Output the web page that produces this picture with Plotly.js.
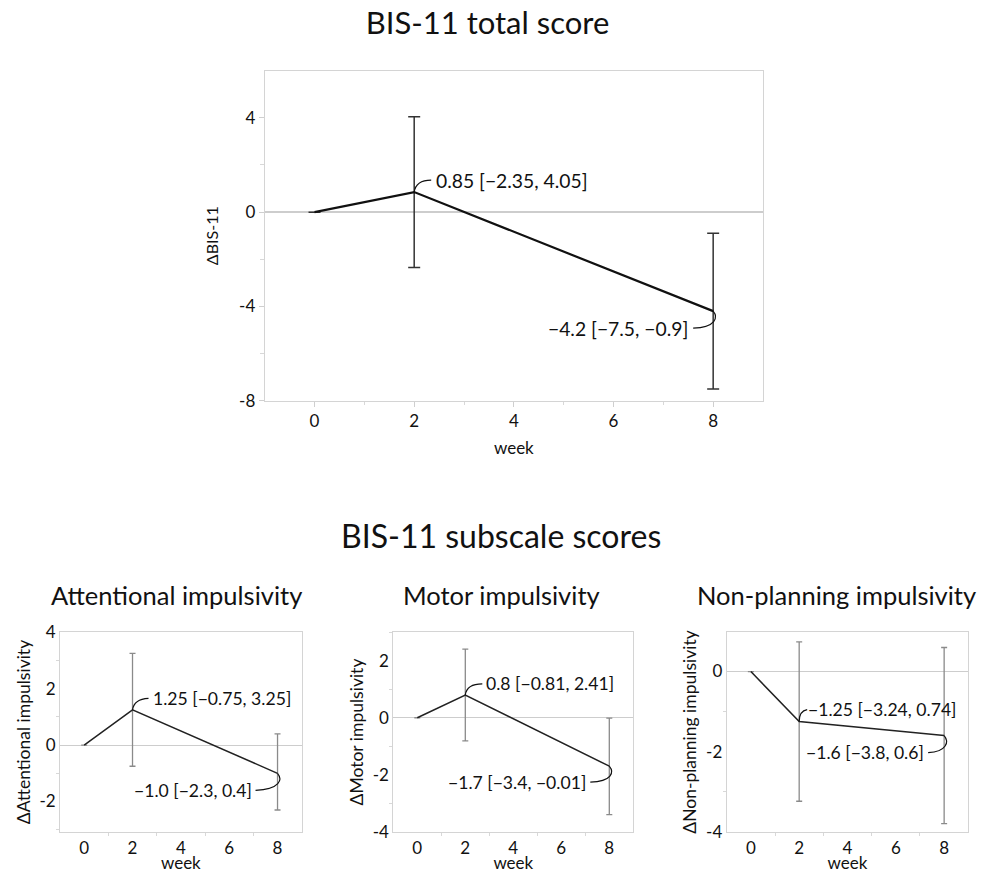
<!DOCTYPE html>
<html><head><meta charset="utf-8">
<script src="https://cdn.plot.ly/plotly-3.0.1.min.js"></script>
<style>body{margin:0;background:#fff}#c{width:990px;height:873px}</style>
</head><body><div id="c"></div>
<script>
// ---- data ----
const weeks = [0, 2, 8];
const xTicks = [0, 2, 4, 6, 8];
const xTickText = ["0", "2", "4", "6", "8"];
const xMinor = [1, 3, 5, 7];

const totalMean = [0, 0.85, -4.2];
const totalLow  = [0, -2.35, -7.5];
const totalHigh = [0, 4.05, -0.9];
const totalLabels = ["", "0.85 [\u22122.35, 4.05]", "\u22124.2 [\u22127.5, \u22120.9]"];
const totalYTicks = [-8, -4, 0, 4];
const totalYText = ["-8", "-4", "0", "4"];
const totalYMinor = [-6, -2, 2];

const attMean = [0, 1.25, -1.0];
const attLow  = [0, -0.75, -2.3];
const attHigh = [0, 3.25, 0.4];
const attLabels = ["", "1.25 [\u22120.75, 3.25]", "\u22121.0 [\u22122.3, 0.4]"];
const attYTicks = [-2, 0, 2, 4];
const attYText = ["-2", "0", "2", "4"];
const attYMinor = [-3, -1, 1, 3];

const motMean = [0, 0.8, -1.7];
const motLow  = [0, -0.81, -3.4];
const motHigh = [0, 2.41, -0.01];
const motLabels = ["", "0.8 [\u22120.81, 2.41]", "\u22121.7 [\u22123.4, \u22120.01]"];
const motYTicks = [-4, -2, 0, 2];
const motYText = ["-4", "-2", "0", "2"];
const motYMinor = [-3, -1, 1, 3];

const npMean = [0, -1.25, -1.6];
const npLow  = [0, -3.24, -3.8];
const npHigh = [0, 0.74, 0.6];
const npLabels = ["", "\u22121.25 [\u22123.24, 0.74]", "\u22121.6 [\u22123.8, 0.6]"];
const npYTicks = [-4, -2, 0];
const npYText = ["-4", "-2", "0"];
const npYMinor = [-3, -1];

const FONT = "Lato, 'Open Sans', sans-serif";

function trace(mean, low, high, xa, ya, big) {
  return {
    x: weeks, y: mean, xaxis: xa, yaxis: ya, type: 'scatter', mode: 'lines',
    line: {color: big ? '#111' : '#222', width: big ? 2.2 : 1.5},
    error_y: {
      type: 'data', symmetric: false,
      array: high.map((h, i) => h - mean[i]),
      arrayminus: low.map((l, i) => mean[i] - l),
      color: big ? '#333' : '#8a8a8a', thickness: big ? 1.5 : 1.3, width: big ? 6 : 3
    },
    showlegend: false, hoverinfo: 'skip'
  };
}

function xaxis(domain, anchor, big) {
  return {
    domain: domain, anchor: anchor, range: [-1, 9], tickmode: 'array', tickvals: xTicks, ticktext: xTickText,
    showline: true, mirror: true, linecolor: '#d4d4d4', linewidth: 1,
    ticks: big ? 'outside' : '', ticklen: big ? 5 : 0, tickcolor: '#cfcfcf',
    minor: {tickmode: 'array', tickvals: xMinor, ticks: 'outside', ticklen: 3, tickcolor: '#d8d8d8'},
    showgrid: false, zeroline: false, automargin: false,
    ticklabelstandoff: big ? 0 : 1,
    tickfont: {family: FONT, size: big ? 17 : 17, color: '#111'},
    title: {text: 'week', font: {family: FONT, size: big ? 17 : 17, color: '#111'}, standoff: big ? 12 : 0}
  };
}

function yaxis(domain, anchor, range, ticks, text, minor, title, big) {
  return {
    domain: domain, anchor: anchor, range: range, tickmode: 'array', tickvals: ticks, ticktext: text,
    showline: true, mirror: true, linecolor: '#d4d4d4', linewidth: 1,
    ticks: big ? 'outside' : '', ticklen: big ? 5 : 0, tickcolor: '#cfcfcf',
    minor: {tickmode: 'array', tickvals: minor, ticks: 'outside', ticklen: big ? 4 : 3, tickcolor: '#d8d8d8'},
    showgrid: false, zeroline: true, zerolinecolor: '#cdcdcd', zerolinewidth: big ? 1.5 : 1.2,
    automargin: false,
    ticklabelstandoff: big ? 0 : 0,
    tickfont: {family: FONT, size: big ? 17 : 17, color: '#111'},
    title: {text: title, font: {family: FONT, size: big ? 16 : 17.5, color: '#111'}, standoff: big ? 16 : 4}
  };
}

const data = [
  trace(totalMean, totalLow, totalHigh, 'x', 'y', true),
  trace(attMean, attLow, attHigh, 'x2', 'y2', false),
  trace(motMean, motLow, motHigh, 'x3', 'y3', false),
  trace(npMean, npLow, npHigh, 'x4', 'y4', false)
];

const groups = [
  {xr: 'x', yr: 'y', m: totalMean, lab: totalLabels, fs: 19.3,
   off: [[20, 12, 'left'], [-23, -17, 'right']],
   path: ['M0,0 C1,7 6,12 17,12', 'M0,0 C5,-6 3,-16 -20,-17']},
  {xr: 'x2', yr: 'y2', m: attMean, lab: attLabels, fs: 17.6,
   off: [[18, 11.5, 'left'], [-24, -17, 'right']],
   path: ['M0,0 C1,7 6,11 16,11.5', 'M0,0 C5,-6 3,-16 -22,-17']},
  {xr: 'x3', yr: 'y3', m: motMean, lab: motLabels, fs: 17.6,
   off: [[19, 11, 'left'], [-21, -16, 'right']],
   path: ['M0,0 C1,7 6,11 17,11', 'M0,0 C5,-6 3,-15 -19,-16']},
  {xr: 'x4', yr: 'y4', m: npMean, lab: npLabels, fs: 17.6,
   off: [[7, 12, 'left'], [-18, -17, 'right']],
   path: ['M0,0 C0,7 2,11 8,12', 'M0,0 C5,-6 3,-16 -16,-17']}
];

const annotations = [];
const shapes = [];
groups.forEach(g => {
  [1, 2].forEach((idx, k) => {
    const o = g.off[k];
    annotations.push({
      x: weeks[idx], y: g.m[idx], xref: g.xr, yref: g.yr, text: g.lab[idx], showarrow: false,
      xanchor: o[2], yanchor: 'middle', xshift: o[0], yshift: o[1],
      font: {family: FONT, size: g.fs, color: '#111'}
    });
    shapes.push({
      type: 'path', xref: g.xr, yref: g.yr, xsizemode: 'pixel', ysizemode: 'pixel',
      xanchor: weeks[idx], yanchor: g.m[idx], path: g.path[k],
      line: {color: '#111', width: 1.2}
    });
  });
});

annotations.push(
  {text: 'BIS-11 subscale scores', x: 501 / 990, y: 1 - 535 / 873, xref: 'paper', yref: 'paper', showarrow: false,
   xanchor: 'center', yanchor: 'middle', font: {family: FONT, size: 32, color: '#111'}},
  {text: 'Attentional impulsivity', x: 176 / 990, y: 1 - 595 / 873, xref: 'paper', yref: 'paper', showarrow: false,
   xanchor: 'center', yanchor: 'middle', font: {family: FONT, size: 25.5, color: '#111'}},
  {text: 'Motor impulsivity', x: 501.7 / 990, y: 1 - 595 / 873, xref: 'paper', yref: 'paper', showarrow: false,
   xanchor: 'center', yanchor: 'middle', font: {family: FONT, size: 25.5, color: '#111'}},
  {text: 'Non-planning impulsivity', x: 836.7 / 990, y: 1 - 595 / 873, xref: 'paper', yref: 'paper', showarrow: false,
   xanchor: 'center', yanchor: 'middle', font: {family: FONT, size: 25.5, color: '#111'}}
);

const layout = {
  width: 990, height: 873, margin: {l: 0, r: 0, t: 0, b: 0},
  paper_bgcolor: '#fff', plot_bgcolor: '#fff',
  title: {text: 'BIS-11 total score', x: 487.5 / 990, xanchor: 'center', y: 1 - 23 / 873, yanchor: 'middle',
          font: {family: FONT, size: 31, color: '#111'}},
  xaxis: xaxis([264.7 / 990, 763 / 990], 'y', true),
  yaxis: yaxis([1 - 400.7 / 873, 1 - 70.7 / 873], 'x', [-8, 6], totalYTicks, totalYText, totalYMinor, '\u0394BIS-11', true),
  xaxis2: xaxis([60 / 990, 301.7 / 990], 'y2', false),
  yaxis2: yaxis([1 - 831.7 / 873, 1 - 632.3 / 873], 'x2', [-3.07, 4], attYTicks, attYText, attYMinor, '\u0394Attentional impulsivity', false),
  xaxis3: xaxis([393.3 / 990, 633.3 / 990], 'y3', false),
  yaxis3: yaxis([1 - 831.7 / 873, 1 - 632.3 / 873], 'x3', [-4, 3], motYTicks, motYText, motYMinor, '\u0394Motor impulsivity', false),
  xaxis4: xaxis([726.7 / 990, 968.3 / 990], 'y4', false),
  yaxis4: yaxis([1 - 831.7 / 873, 1 - 632.3 / 873], 'x4', [-4, 0.98], npYTicks, npYText, npYMinor, '\u0394Non-planning impulsivity', false),
  annotations: annotations,
  shapes: shapes
};

Plotly.newPlot('c', data, layout, {staticPlot: true, displayModeBar: false});
</script>
</body></html>
